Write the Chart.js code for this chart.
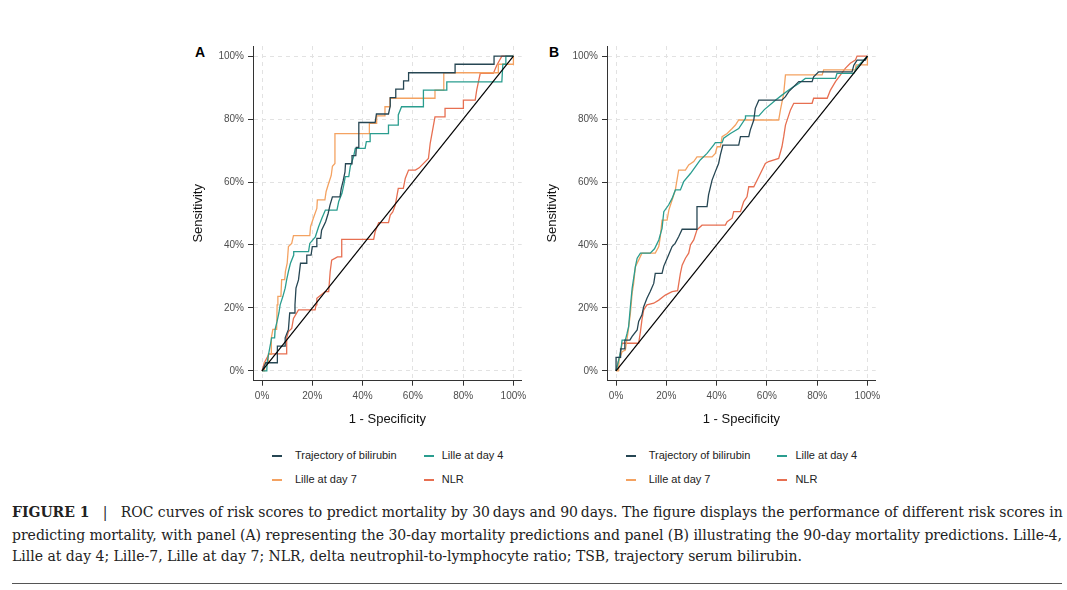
<!DOCTYPE html>
<html>
<head>
<meta charset="utf-8">
<script src="https://cdn.jsdelivr.net/npm/chart.js@4.4.1/dist/chart.umd.min.js"></script>
<style>
  body { margin: 0; width: 1067px; height: 590px; background: #fff; position: relative; overflow: hidden; font-family: "Liberation Sans", Arial, sans-serif; }
  .panel { position: absolute; top: 30px; width: 360px; height: 410px; }
  .tag { position: absolute; top: 44px; font: bold 14px "Liberation Sans", Arial, sans-serif; color: #000; }
  .key { position: absolute; font-size: 11px; color: #222; line-height: 14px; white-space: nowrap; }
  .key i { position: absolute; left: -20px; top: 7px; width: 10px; height: 1.5px; }
  .cap { position: absolute; left: 12px; font: 14px "DejaVu Serif", serif; line-height: 20px; color: #222; white-space: nowrap; }
  .rule { position: absolute; left: 12px; top: 583px; width: 1050px; height: 1px; background: #555; }
</style>
</head>
<body>

<div class="tag" style="left:195px">A</div>
<div class="tag" style="left:549px">B</div>
<div class="panel" style="left:180px"><canvas id="chartA" width="360" height="410"></canvas></div>
<div class="panel" style="left:533.7px"><canvas id="chartB" width="360" height="410"></canvas></div>
<div id="legends"></div>

<div class="cap" data-w="1050" style="top:502px"><b>FIGURE 1</b> &nbsp; | &nbsp; ROC curves of risk scores to predict mortality by 30&#8201;days and 90&#8201;days. The figure displays the performance of different risk scores in</div>
<div class="cap" data-w="1050" style="top:524.5px">predicting mortality, with panel (A) representing the 30-day mortality predictions and panel (B) illustrating the 90-day mortality predictions. Lille-4,</div>
<div class="cap" data-w="790" style="top:545.5px">Lille at day 4; Lille-7, Lille at day 7; NLR, delta neutrophil-to-lymphocyte ratio; TSB, trajectory serum bilirubin.</div>
<div class="rule"></div>

<script>
// Series
const seriesNames = ['Trajectory of bilirubin', 'Lille at day 4', 'Lille at day 7', 'NLR'];
const seriesColors = ['#264653', '#2A9D8F', '#F4A261', '#E76F51'];
const axisTicks = [0, 20, 40, 60, 80, 100];

// Reference diagonal
const refFpr = [0, 100];
const refTpr = [0, 100];

// Panel A - 30 day mortality (1 - specificity %, sensitivity %)
const trajA_fpr = [0,1.5,6.1,6.1,9.2,9.2,10.5,11,12.8,13.1,13.5,14.5,15.3,17.5,17.8,19.5,20,21.5,21.8,23.3,23.7,25.3,26.3,27,28,31,31.5,32.3,33,33.2,35.8,35.8,37.3,37.5,38.5,38.5,45,45.5,50.3,51,51,53,53.2,56.3,56.3,58.3,58.3,76.8,76.8,92.3,92.3,100];
const trajA_tpr = [0,2.6,2.6,7.9,7.9,10.5,13.2,18.4,18.4,21,26.3,28.9,34.2,34.2,36.8,36.8,39.5,39.5,42.1,42.1,44.7,47.4,50,52.6,55.3,55.3,57.9,60.5,63.2,65.8,65.8,68.4,68.4,71,71,78.9,78.9,81.6,81.6,84.2,86.8,86.8,89.5,89.5,92.1,92.1,94.7,94.7,97.4,97.4,100,100];
const lille4A_fpr = [0,1.9,2,2.6,3.2,3.8,5,5.2,6,6.7,7.2,8.3,9.2,9.8,10.5,11.3,12.6,12.6,18.5,19,21.2,22.5,23.8,25.2,29.8,30.5,31.8,32.5,33.1,34.5,35.1,36.4,37.1,41,41.5,43,43,50.3,50.3,54.2,54.2,55.5,64.2,64.2,73.5,73.5,95.4,95.8,97,97,100];
const lille4A_tpr = [0,0,2.6,5.3,7.9,10.5,10.5,13.2,15.8,18.4,21,23.7,26.3,29,31.6,34.2,36.8,37.9,37.9,40.5,42.6,45.8,48.5,51.1,51.1,53.8,56.4,59,61.7,61.7,64.9,68,70.7,70.7,72.8,72.8,75.4,75.4,78.1,78.1,81.3,83.9,83.9,89.2,89.2,91.8,91.8,97.4,97.4,100,100];
const lille7A_fpr = [0,1,1,2.5,2.5,3.7,3.7,4.3,5.8,6,6.3,7.5,7.8,9,9.3,10,10.5,11.8,12.5,19,19.3,20.4,21.8,22,25,25.5,26.5,27.5,28,29,29,42.7,42.7,45.6,45.6,48.9,48.9,50.9,50.9,68.8,68.8,72.1,72.3,94,94,100,100];
const lille7A_tpr = [0,0,2.6,2.6,5.3,5.3,10.5,13.2,13.2,21,23.7,23.7,29,29,31.6,34.2,39.5,40.5,43,43,45.8,48.5,51.6,54.3,54.3,57,59.6,62,65,65.9,75.4,75.4,78.6,78.6,81,81,83.9,83.9,86.6,86.6,89.2,89.2,94.7,94.7,97.4,97.4,100];
const nlrA_fpr = [0,0.9,2.8,9.8,9.8,10.5,11.8,12.5,14.5,21.1,21.5,21.8,25.1,26.5,27.1,27.7,30,31.7,31.7,44.4,45,46.4,50.3,51,52,53,54.2,56.2,57,58.3,61,62.5,66.2,66.9,68.8,72.8,72.8,80.1,80.1,84.8,85.4,86.8,92,93.4,95.4,100];
const nlrA_tpr = [0,2.6,5.4,5.4,10.5,12.5,13.5,16.7,19.4,19.4,21,23.1,25.2,25.2,31.5,35.2,36.2,36.2,41.8,41.8,44.2,47.1,47.1,49.5,50.5,52.7,58,58,61.2,63.8,63.8,64.5,67.5,72.3,80.7,80.7,83.4,83.4,86,86,89.2,94.5,94.5,97.1,100,100];

// Panel B - 90 day mortality
const trajB_fpr = [0,0,1.8,1.8,3.5,3.5,5.5,6.4,8.4,9,10.3,11,12.3,13.6,15,15.6,18.3,19,19.5,20.9,22.3,23.5,24.9,26.3,32.2,32.2,36.2,36.8,38.2,39.5,40.8,41.5,42.5,48.8,49.5,52.8,53.4,54.8,55.4,56.8,66,67.4,68.7,70.7,72.7,78,78.6,80.6,93.9,94.6,95.9,99.2,100];
const trajB_tpr = [0,4.3,4.3,7,7,9.8,9.8,11,13,15.7,17.8,20.4,23.1,25.2,27.8,31,31,33.3,34.2,36.8,39.5,40.5,42.6,45,45,52.2,52.2,55.9,60.6,63.3,65.9,68.6,71.7,71.7,74.4,74.4,76.5,79.7,83.4,86,86,87.1,88.7,90.3,91.9,91.9,93.4,95,95,97.1,98.7,98.7,100];
const lille4B_fpr = [0,0.8,1.5,2,2.4,3.7,4.4,5,5.7,6.4,7.7,8.4,9.7,13.6,15.3,17,18.3,19,20.9,22.3,23.6,25.6,26.9,29.6,31.6,33.5,36.2,38.8,39.5,42.2,42.8,45.5,48.8,51.5,51.5,56.8,59,62,63.4,66,68.7,70.7,72.7,75.3,87.3,87.9,94.6,95.9,97.9,100];
const lille4B_tpr = [0,2.6,5,7,9.8,9.8,12,14.1,20.4,26.2,33.1,35.8,37.4,37.4,38.8,41.6,45.3,50.6,52.7,54.8,57.5,57.5,60.1,62.7,64.9,67,69.1,71.7,72.5,72.5,73.9,75.4,77,80.2,81,81,83,85,86,87.6,89.2,90.3,91.3,92.9,92.9,94.5,94.5,96.6,98.2,100];
const lille7B_fpr = [0,1,1.2,2.4,3.7,4.8,5.7,6.4,7,7.7,9,10.3,15.6,17,17.6,18.3,20.3,21,22.3,23.6,24.9,27.6,28.9,30.9,32.2,38.2,39.5,40.2,41.5,42.2,44.2,46.2,47.5,48.8,64.7,65.4,66.7,67.4,82,82.6,95.2,95.5,100,100];
const lille7B_tpr = [0,0,3.5,6.1,6.6,12.5,18.3,24.7,27.8,33.1,35.2,37.4,37.4,39.5,42.6,47.9,47.9,51.1,54.3,57.5,63.8,63.8,65.4,66.5,68,68,69.1,71.2,71.2,74.4,75.4,77,78.1,79.7,79.7,82.9,88.1,94,94,95.6,95.6,97.2,97.2,100];
const nlrB_fpr = [0,1.7,2.4,9,9.7,10.3,11,12.3,15,17,19.6,22.3,24.5,25.6,26.3,27.6,28.9,29.6,30.9,32.2,34.2,43.5,44.2,46.2,46.8,49.5,50.8,52.1,52.8,54.8,56.8,59.4,60.7,64.7,66,66.7,67.4,69.4,70.7,78,78.6,84,85.3,87.3,89.3,91.2,93.2,95.2,95.9,100];
const nlrB_tpr = [0,5.6,8.8,8.8,12.5,16.2,19.4,21,21.5,22.5,24.1,25.2,25.5,31,33.6,35.8,37.4,40,41.6,44.8,46.3,46.3,47.4,48.5,50.6,50.6,53.8,55.3,58.5,58.5,61.7,65.9,66.5,67.5,71.2,74.4,78.1,82.9,85,85,86.6,86.6,89.2,91.9,94,96.1,97.7,98.7,100,100];

const FONT = '"Liberation Sans", Arial, sans-serif';

function toPoints(xs, ys) {
    return xs.map((x, i) => ({ x: x, y: ys[i] }));
}

function makePanel(canvasId, curves) {
    const datasets = curves.map((c, i) => ({
        label: seriesNames[i],
        data: toPoints(c[0], c[1]),
        borderColor: seriesColors[i],
        borderWidth: 1.3,
        pointRadius: 0,
        tension: 0,
        fill: false
    }));
    // diagonal drawn over the curves
    datasets.unshift({
        label: 'reference',
        data: toPoints(refFpr, refTpr),
        borderColor: '#000',
        borderWidth: 1.2,
        pointRadius: 0,
        fill: false
    });

    const tickOpts = {
        callback: v => v + '%',
        font: { family: FONT, size: 10 },
        color: '#4d4d4d',
        autoSkip: false,
        maxRotation: 0
    };
    const gridOpts = {
        color: '#e2e2e2',
        lineWidth: 1,
        tickLength: 5,
        tickColor: '#333',
        tickWidth: 1,
        tickBorderDash: []
    };
    const borderOpts = { color: '#333', width: 1, dash: [4, 4] };

    return new Chart(document.getElementById(canvasId), {
        type: 'line',
        data: { datasets: datasets },
        options: {
            responsive: false,
            animation: false,
            layout: { padding: { top: 16, right: 18.3, left: 0, bottom: 0 } },
            plugins: { legend: { display: false }, tooltip: { enabled: false } },
            scales: {
                x: {
                    type: 'linear',
                    min: -3.6,
                    max: 103.3,
                    afterBuildTicks: s => { s.ticks = axisTicks.map(v => ({ value: v })); },
                    afterFit: s => { s.height = 59.3; },
                    ticks: Object.assign({ padding: 5 }, tickOpts),
                    grid: gridOpts,
                    border: borderOpts,
                    title: {
                        display: true,
                        text: '1 - Specificity',
                        font: { family: FONT, size: 13 },
                        color: '#111',
                        padding: { top: 0, bottom: 13 }
                    }
                },
                y: {
                    type: 'linear',
                    min: -3.1,
                    max: 103.2,
                    afterBuildTicks: s => { s.ticks = axisTicks.map(v => ({ value: v })); },
                    afterFit: s => { s.width = 73; },
                    ticks: Object.assign({ padding: 4 }, tickOpts),
                    grid: gridOpts,
                    border: borderOpts,
                    title: {
                        display: true,
                        text: 'Sensitivity',
                        font: { family: FONT, size: 13 },
                        color: '#111',
                        padding: { top: 11, bottom: 0 }
                    }
                }
            }
        }
    });
}

makePanel('chartA', [[trajA_fpr, trajA_tpr], [lille4A_fpr, lille4A_tpr], [lille7A_fpr, lille7A_tpr], [nlrA_fpr, nlrA_tpr]]);
makePanel('chartB', [[trajB_fpr, trajB_tpr], [lille4B_fpr, lille4B_tpr], [lille7B_fpr, lille7B_tpr], [nlrB_fpr, nlrB_tpr]]);

// Legends: 2 x 2 below each panel
const legendCols = [295, 441.7];
const legendRows = [448, 472];
const panelShift = [0, 353.7];
const holder = document.getElementById('legends');
panelShift.forEach(shift => {
    seriesNames.forEach((name, i) => {
        const el = document.createElement('div');
        el.className = 'key';
        el.style.left = (legendCols[i % 2] + shift) + 'px';
        el.style.top = legendRows[Math.floor(i / 2)] + 'px';
        el.innerHTML = '<i style="background:' + seriesColors[i] + (i % 2 ? ';left:-18px' : ';left:-23px') + '"></i>' + name;
        holder.appendChild(el);
    });
});

// Fit each caption line to the width it has in the figure
document.querySelectorAll('.cap').forEach(el => {
    const target = +el.dataset.w;
    const natural = el.getBoundingClientRect().width;
    const n = el.textContent.length - 1;
    el.style.letterSpacing = ((target - natural) / n).toFixed(3) + 'px';
});
</script>
</body>
</html>
